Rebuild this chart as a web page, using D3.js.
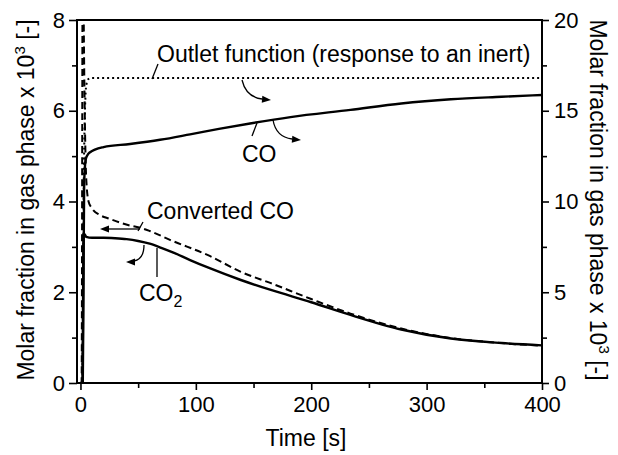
<!DOCTYPE html>
<html><head><meta charset="utf-8">
<script src="https://cdn.jsdelivr.net/npm/d3@7"></script>
<style>
html,body{margin:0;padding:0;background:#fff;}
text{font-family:"Liberation Sans",Arial,Helvetica,sans-serif;fill:#000;}
</style></head>
<body>
<svg id="chart" width="618" height="455"></svg>
<script>
// ---- data ----
const xTicks = [0, 100, 200, 300, 400];
const xMinor = [50, 150, 250, 350];
const yLeftTicks = [0, 2, 4, 6, 8];
const yLeftMinor = [1, 3, 5, 7];
const yRightTicks = [0, 5, 10, 15, 20];
const yRightMinor = [2.5, 7.5, 12.5, 17.5];

// Outlet function (response to an inert) - right axis
const outletT = [0, 1.5, 3, 5, 7, 10, 50, 100, 200, 300, 400];
const outletV = [0, 0, 12, 16.4, 16.75, 16.8, 16.8, 16.8, 16.8, 16.8, 16.8];
// CO - right axis
const coT = [0, 2, 2.6, 3.2, 4.5, 6, 8, 20, 43, 69, 95, 120, 147, 182, 234, 278, 321, 365, 400];
const coV = [0, 0, 5, 11, 12.3, 12.55, 12.7, 13.0, 13.17, 13.4, 13.7, 14.0, 14.3, 14.65, 15.05, 15.4, 15.63, 15.77, 15.87];
// Converted CO - left axis
const convT = [0, 1, 2, 3.2, 4, 5, 7, 10, 17, 25, 43, 52, 60, 78, 112, 139, 165, 200, 234, 278, 321, 365, 400];
const convV = [0, 0, 10, 7, 5.5, 4.5, 4.0, 3.85, 3.7, 3.62, 3.47, 3.42, 3.35, 3.15, 2.8, 2.45, 2.2, 1.85, 1.53, 1.2, 0.99, 0.88, 0.82];
// CO2 - left axis
const co2T = [0, 1.8, 2.6, 3.5, 5, 10, 20, 30, 40, 50, 60, 70, 80, 95, 112, 139, 165, 200, 234, 278, 321, 365, 400];
const co2V = [0, 0, 3.25, 3.28, 3.22, 3.2, 3.2, 3.19, 3.17, 3.13, 3.07, 2.98, 2.88, 2.71, 2.53, 2.27, 2.05, 1.78, 1.5, 1.18, 0.98, 0.88, 0.83];

// ---- layout ----
const L = 77, R = 542, T = 20, B = 383;
const svg = d3.select("#chart");
const x = d3.scaleLinear().domain([-3, 400]).range([L, R]);
const yL = d3.scaleLinear().domain([0, 8]).range([B, T]);
const yR = d3.scaleLinear().domain([0, 20]).range([B, T]);

svg.append("defs").append("clipPath").attr("id", "clip")
  .append("rect").attr("x", L).attr("y", T).attr("width", R - L).attr("height", B - T);

const fontTick = 22;
// axes
function styleAxis(g) {
  g.select(".domain").remove();
  g.selectAll("line").attr("stroke", "#000").attr("stroke-width", 1.6);
  g.selectAll("text").style("font-size", fontTick + "px");
}
const gx = svg.append("g").attr("transform", `translate(0,${B})`)
  .call(d3.axisBottom(x).tickValues(xTicks).tickSize(7).tickPadding(6).tickFormat(d3.format("d")));
styleAxis(gx);
svg.append("g").attr("transform", `translate(0,${B})`)
  .call(d3.axisBottom(x).tickValues(xMinor).tickSize(5).tickFormat("")).call(styleAxis);

const gl = svg.append("g").attr("transform", `translate(${L},0)`)
  .call(d3.axisLeft(yL).tickValues(yLeftTicks).tickSize(8).tickPadding(4).tickFormat(d3.format("d")));
styleAxis(gl);
svg.append("g").attr("transform", `translate(${L},0)`)
  .call(d3.axisLeft(yL).tickValues(yLeftMinor).tickSize(5).tickFormat("")).call(styleAxis);

const gr = svg.append("g").attr("transform", `translate(${R},0)`)
  .call(d3.axisRight(yR).tickValues(yRightTicks).tickSize(7).tickPadding(5).tickFormat(d3.format("d")));
styleAxis(gr);
svg.append("g").attr("transform", `translate(${R},0)`)
  .call(d3.axisRight(yR).tickValues(yRightMinor).tickSize(5).tickFormat("")).call(styleAxis);

// frame
svg.append("rect").attr("x", L).attr("y", T).attr("width", R - L).attr("height", B - T)
  .attr("fill", "none").attr("stroke", "#000").attr("stroke-width", 2);

// curves
const plot = svg.append("g").attr("clip-path", "url(#clip)");
function addLine(ts, vs, ys, dash, w) {
  const pts = ts.map((t, i) => [t, vs[i]]);
  plot.append("path").datum(pts)
    .attr("d", d3.line().x(d => x(d[0])).y(d => ys(d[1])).curve(d3.curveMonotoneX))
    .attr("fill", "none").attr("stroke", "#000").attr("stroke-width", w)
    .attr("stroke-dasharray", dash);
}
addLine(outletT, outletV, yR, "2,3", 2);
addLine(convT, convV, yL, "7,4", 2);
addLine(co2T, co2V, yL, null, 2.4);
addLine(coT, coV, yR, null, 2.4);

// annotations
const fontAnn = 23;
function label(txt, px, py, anchor) {
  return svg.append("text").attr("x", px).attr("y", py).attr("text-anchor", anchor || "start")
    .style("font-size", fontAnn + "px").text(txt);
}
label("Outlet function (response to an inert)", 157, 62);
label("CO", 242, 162);
label("Converted CO", 147, 219);
const co2Lab = svg.append("text").attr("x", 139).attr("y", 301).style("font-size", fontAnn + "px");
co2Lab.append("tspan").text("CO");
co2Lab.append("tspan").attr("dy", 6).style("font-size", "16px").text("2");

function seg(x1, y1, x2, y2) {
  svg.append("line").attr("x1", x1).attr("y1", y1).attr("x2", x2).attr("y2", y2)
    .attr("stroke", "#000").attr("stroke-width", 1.3);
}
function arrowHead(tipX, tipY, angleDeg) {
  const a = angleDeg * Math.PI / 180, len = 9, half = 3.5;
  const bx = tipX - len * Math.cos(a), by = tipY - len * Math.sin(a);
  const px = -Math.sin(a) * half, py = Math.cos(a) * half;
  svg.append("path").attr("d", `M${tipX},${tipY}L${bx + px},${by + py}L${bx - px},${by - py}Z`).attr("fill", "#000");
}
function curveArrow(d) {
  svg.append("path").attr("d", d).attr("fill", "none").attr("stroke", "#000").attr("stroke-width", 1.3);
}
// outlet leader + arrow
seg(158, 64, 152, 79);
curveArrow("M242,80 Q246,97 262,99");
arrowHead(271, 100, 5);
// CO leader + arrow
seg(257, 123, 252, 136);
curveArrow("M273,120 Q276,137 292,139");
arrowHead(301, 140, 5);
// Converted CO leader + arrow
seg(143, 222, 138, 231);
seg(140, 229, 108, 229);
arrowHead(100, 229, 180);
// CO2 leader + arrow
seg(157, 248, 157, 277);
curveArrow("M144,245 Q144,259 134,261");
arrowHead(126, 262, 180);

// axis titles
svg.append("text").attr("x", 306).attr("y", 446).attr("text-anchor", "middle")
  .style("font-size", fontAnn + "px").text("Time [s]");
function yTitle(tx, ty, rot) {
  const t = svg.append("text").attr("transform", `translate(${tx},${ty}) rotate(${rot})`)
    .attr("text-anchor", "middle").style("font-size", fontAnn + "px");
  t.append("tspan").text("Molar fraction in gas phase x 10");
  t.append("tspan").attr("dy", -9).style("font-size", "15px").text("3");
  t.append("tspan").attr("dy", 9).text(" [-]");
}
yTitle(34, 200, -90);
yTitle(590, 200, 90);
</script>
</body></html>
